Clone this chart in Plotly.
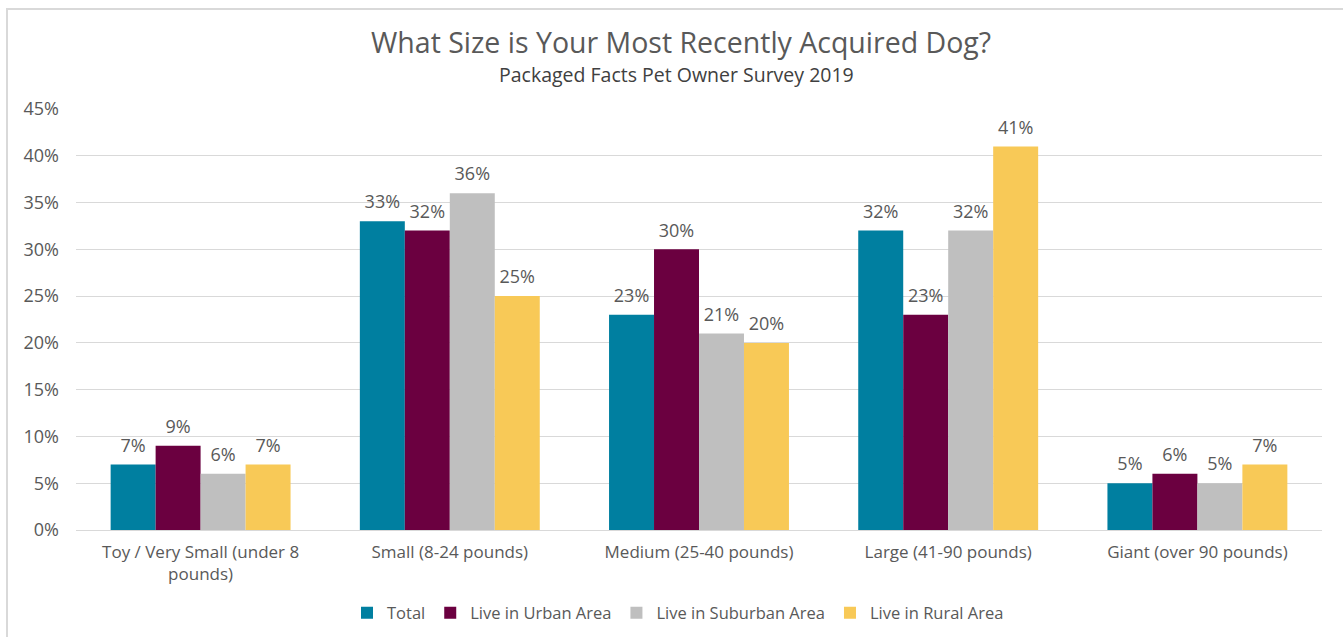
import plotly.graph_objects as go

categories = ["Toy / Very Small (under 8<br>pounds)", "Small (8-24 pounds)", "Medium (25-40 pounds)",
              "Large (41-90 pounds)", "Giant (over 90 pounds)"]
series_names = ["Total", "Live in Urban Area", "Live in Suburban Area", "Live in Rural Area"]
total = [7, 33, 23, 32, 5]
urban = [9, 32, 30, 23, 6]
suburban = [6, 36, 21, 32, 5]
rural = [7, 25, 20, 41, 7]
colors = ["#007FA0", "#6B0040", "#BFBFBF", "#F8C957"]
y_ticks = list(range(0, 50, 5))

W, H = 1343, 637
L, R, T, B = 76, 21, 109, 107
pw, ph = W - L - R, H - T - B

def px_x(x):
    return (x - L) / pw

def px_y(y):
    return (H - B - y) / ph

FONT = "Open Sans"
GRAY = "#595959"

fig = go.Figure()
for name, vals, c in zip(series_names, [total, urban, suburban, rural], colors):
    fig.add_trace(go.Bar(
        x=categories, y=vals, name=name, marker_color=c, marker_line_width=0,
        text=[f"<span style='font-size:18px'>{v}%</span><br> " for v in vals],
        textposition="outside",
        textfont=dict(family=FONT, size=6, color=GRAY), cliponaxis=False,
    ))

fig.update_layout(
    width=W, height=H,
    margin=dict(l=L, r=R, t=T, b=B, autoexpand=False),
    paper_bgcolor="white", plot_bgcolor="white",
    barmode="group", bargap=0.278, bargroupgap=0,
    font=dict(family=FONT, size=17, color=GRAY),
    showlegend=True,
    legend=dict(orientation="h", x=px_x(678), y=px_y(613), xanchor="center", yanchor="middle",
                font=dict(family=FONT, size=16.5, color=GRAY), itemwidth=30, tracegroupgap=0,
                itemsizing="constant"),
    xaxis=dict(showgrid=False, showline=False, ticks="", tickfont=dict(size=17, color=GRAY),
               ticklabelstandoff=10, automargin=False),
    yaxis=dict(range=[0, 45], tickvals=y_ticks, ticktext=[f"{v}%" for v in y_ticks],
               showgrid=True, gridcolor="#D9D9D9", gridwidth=1, zeroline=True,
               zerolinecolor="#D9D9D9", zerolinewidth=1, showline=False, ticks="",
               tickfont=dict(size=18, color=GRAY), ticklabelstandoff=16, automargin=False),
    shapes=[dict(type="rect", xref="paper", yref="paper",
                 x0=px_x(7), x1=px_x(1360), y0=px_y(660), y1=px_y(9),
                 line=dict(color="#D9D9D9", width=2), fillcolor="rgba(0,0,0,0)", layer="below")],
    annotations=[
        dict(text="What Size is Your Most Recently Acquired Dog?", xref="paper", yref="paper",
             x=px_x(681), y=px_y(42), xanchor="center", yanchor="middle", showarrow=False,
             font=dict(family=FONT, size=28.5, color=GRAY)),
        dict(text="Packaged Facts Pet Owner Survey 2019", xref="paper", yref="paper",
             x=px_x(676), y=px_y(75), xanchor="center", yanchor="middle", showarrow=False,
             font=dict(family=FONT, size=19.5, color="#404040")),
    ],
)

fig.write_html("out.html")
